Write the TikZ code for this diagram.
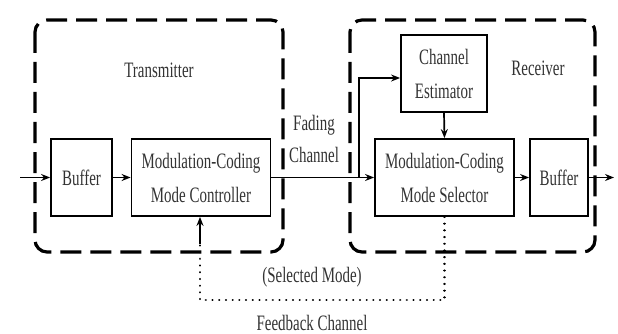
\documentclass[tikz,border=0pt]{standalone}
\usepackage{fontspec}
\setmainfont[FakeStretch=0.68]{Liberation Serif}
\usetikzlibrary{arrows.meta}
\tikzset{
  blk/.style={draw=black, line width=1.8pt, inner sep=0pt, align=center, text=black!80,
    font=\fontsize{22}{34}\selectfont},
  lbl/.style={inner sep=0pt, align=center, text=black!80, font=\fontsize{22}{32}\selectfont},
  group/.style={draw=black, line width=3.2pt, dash pattern=on 21pt off 9pt, rounded corners=12pt},
  conn/.style={draw=black, line width=1.7pt, -{Stealth[length=9pt,width=7pt]}},
  fbline/.style={draw=black, line width=2.2pt, line cap=round, dash pattern=on 0.1pt off 6.6pt}
}
\begin{document}
\begin{tikzpicture}[x=1pt,y=-1pt]
\useasboundingbox (0,0) rectangle (618,334);
% groups
\draw[group] (35,20) rectangle (283,252);
\draw[group] (350,20) rectangle (595,252);
% blocks
\node[blk, minimum width=61pt, minimum height=77pt] (buf1) at (81.5,177.5) {Buffer};
\node[blk, minimum width=139pt, minimum height=77pt] (ctrl) at (201,177.5) {Modulation-Coding\\Mode Controller};
\node[blk, minimum width=139pt, minimum height=77pt] (sel) at (444.5,177.5) {Modulation-Coding\\Mode Selector};
\node[blk, minimum width=58pt, minimum height=77pt] (buf2) at (559,177.5) {Buffer};
\node[blk, minimum width=86pt, minimum height=77pt] (est) at (444,73.5) {Channel\\Estimator};
% labels
\node[lbl] (tx) at (159,70) {Transmitter};
\node[lbl] (rx) at (538,68) {Receiver};
\node[lbl] (fad) at (314,139) {Fading\\Channel};
\node[lbl] (selm) at (312,277) {(Selected Mode)};
\node[lbl] (fbc) at (312,323) {Feedback Channel};
% coordinates
\coordinate (in) at (20,177.5);
\coordinate (out) at (614,177.5);
\coordinate (br) at (359,177.5);
\coordinate (fb) at (200,244);
% connectors
\draw[conn] (in) -- (buf1.west);
\draw[conn] (buf1.east) -- (ctrl.west);
\draw[conn] (ctrl.east) -- (sel.west);
\draw[conn] (br) |- ([yshift=-4.5pt]est.west);
\draw[conn] (est.south) -- (sel.north);
\draw[conn] (sel.east) -- (buf2.west);
\draw[conn] (buf2.east) -- (out);
% feedback
\draw[fbline] (sel.south) -- ++(0,83) -| (fb);
\draw[conn] (fb) -- (fb |- ctrl.south);
\end{tikzpicture}
\end{document}
